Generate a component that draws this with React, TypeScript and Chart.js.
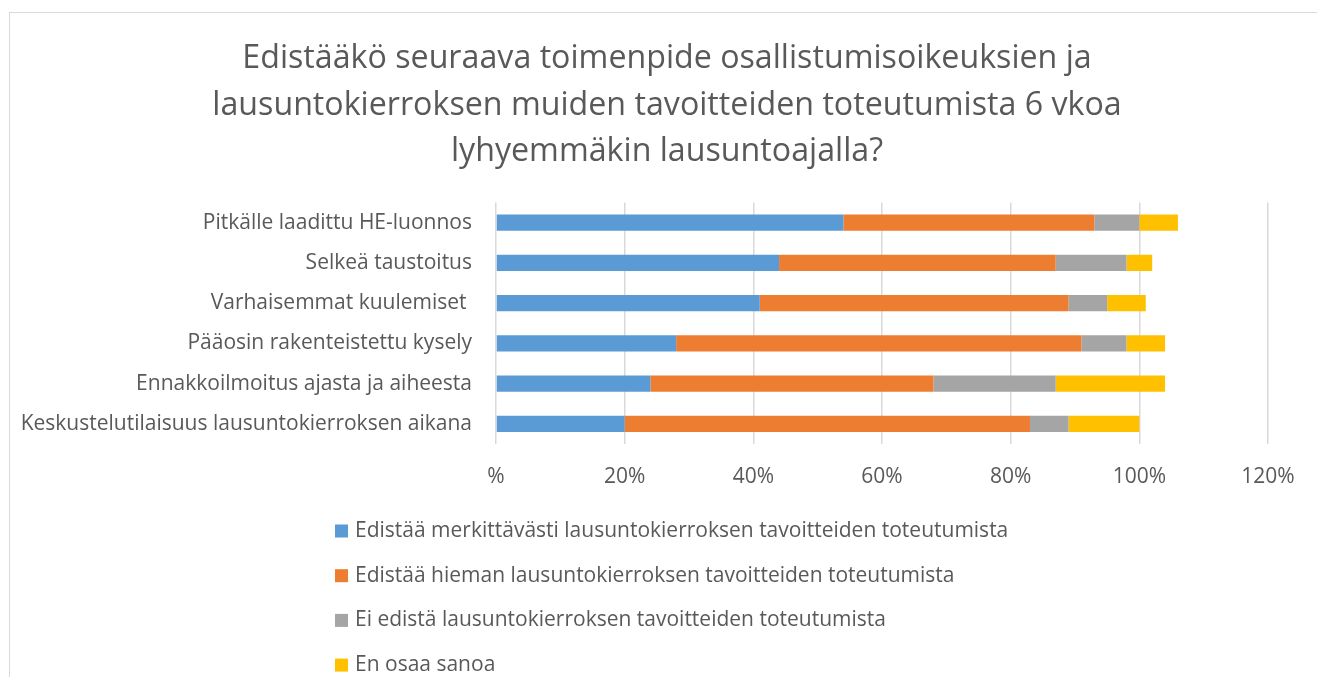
import React, { useEffect, useRef } from 'react';
import { Chart, registerables } from 'chart.js';

Chart.register(...registerables);

const titleLines = [
  'Edistääkö seuraava toimenpide osallistumisoikeuksien ja',
  'lausuntokierroksen muiden tavoitteiden toteutumista 6 vkoa',
  'lyhyemmäkin lausuntoajalla?',
];

const categories = [
  'Pitkälle laadittu HE-luonnos',
  'Selkeä taustoitus',
  'Varhaisemmat kuulemiset ',
  'Pääosin rakenteistettu kysely',
  'Ennakkoilmoitus ajasta ja aiheesta',
  'Keskustelutilaisuus lausuntokierroksen aikana',
];

const seriesNames = [
  'Edistää merkittävästi lausuntokierroksen tavoitteiden toteutumista',
  'Edistää hieman lausuntokierroksen tavoitteiden toteutumista',
  'Ei edistä lausuntokierroksen tavoitteiden toteutumista',
  'En osaa sanoa',
];

const significantly = [54, 44, 41, 28, 24, 20];
const slightly = [39, 43, 48, 63, 44, 63];
const notAtAll = [7, 11, 6, 7, 19, 6];
const dontKnow = [6, 4, 6, 6, 17, 11];

const xTickLabels = ['%', '20%', '40%', '60%', '80%', '100%', '120%'];

const seriesColors = ['#5B9BD5', '#ED7D31', '#A5A5A5', '#FFC000'];

const TEXT = '#595959';
const FONT = '"Open Sans", "Noto Sans", sans-serif';
const LABEL_SIZE = 21;

const verticalLegend = {
  id: 'verticalLegend',
  afterDraw(chart: any) {
    const ctx = chart.ctx as CanvasRenderingContext2D;
    ctx.save();
    ctx.font = `${LABEL_SIZE}px ${FONT}`;
    ctx.textBaseline = 'middle';
    ctx.textAlign = 'left';
    const startY = 518;
    const step = 44.7;
    const x = 325;
    chart.data.datasets.forEach((ds: any, i: number) => {
      const y = startY + i * step;
      ctx.fillStyle = ds.backgroundColor;
      ctx.fillRect(x, y - 6.5, 13, 13);
      ctx.fillStyle = TEXT;
      ctx.fillText(ds.label, x + 20, y);
    });
    ctx.restore();
  },
};

export default function App() {
  const ref = useRef<HTMLCanvasElement | null>(null);

  useEffect(() => {
    document.body.style.overflow = 'hidden';
    const canvas = ref.current;
    if (!canvas) return;
    const values = [significantly, slightly, notAtAll, dontKnow];
    const chart = new Chart(canvas, {
      type: 'bar',
      data: {
        labels: categories,
        datasets: seriesNames.map((name, i) => ({
          label: name,
          data: values[i],
          backgroundColor: seriesColors[i],
          borderWidth: 0,
          barPercentage: 0.4,
          categoryPercentage: 1,
        })),
      },
      options: {
        indexAxis: 'y',
        animation: false,
        responsive: false,
        events: [],
        layout: { padding: { left: 0, right: 0, top: 0, bottom: 192 } },
        plugins: {
          legend: { display: false },
          tooltip: { enabled: false },
          title: {
            display: true,
            text: titleLines,
            color: TEXT,
            font: { family: FONT, size: 32.2, weight: 'normal', lineHeight: 46.5 / 32.2 },
            padding: { top: 23, bottom: 27 },
          },
        },
        scales: {
          x: {
            stacked: true,
            min: 0,
            max: 120,
            ticks: {
              stepSize: 20,
              color: TEXT,
              font: { family: FONT, size: LABEL_SIZE },
              padding: 20,
              callback: (v: any) => xTickLabels[Math.round(Number(v) / 20)],
            },
            grid: { color: '#d9d9d9', lineWidth: 1.5, drawTicks: false },
            border: { display: false },
            afterFit: (s: any) => {
              s.height = 45;
            },
          },
          y: {
            stacked: true,
            ticks: {
              color: TEXT,
              font: { family: FONT, size: LABEL_SIZE },
              padding: 24,
              autoSkip: false,
            },
            grid: { display: false, drawTicks: false },
            border: { display: false },
            afterFit: (s: any) => {
              s.width = 486;
            },
          },
          spacer: {
            type: 'linear',
            position: 'right',
            display: true,
            ticks: { display: false },
            grid: { display: false, drawTicks: false },
            border: { display: false },
            afterFit: (s: any) => {
              s.width = 56;
            },
          },
        },
      },
      plugins: [verticalLegend],
    });
    return () => chart.destroy();
  }, []);

  return (
    <div
      style={{
        position: 'relative',
        top: 4,
        left: 1,
        width: 1314,
        height: 668,
        borderTop: '1px solid #d9d9d9',
        borderLeft: '1px solid #d9d9d9',
        borderRight: '1px solid #d9d9d9',
        background: '#fff',
      }}
    >
      <canvas ref={ref} width={1314} height={668} style={{ display: 'block' }} />
    </div>
  );
}
